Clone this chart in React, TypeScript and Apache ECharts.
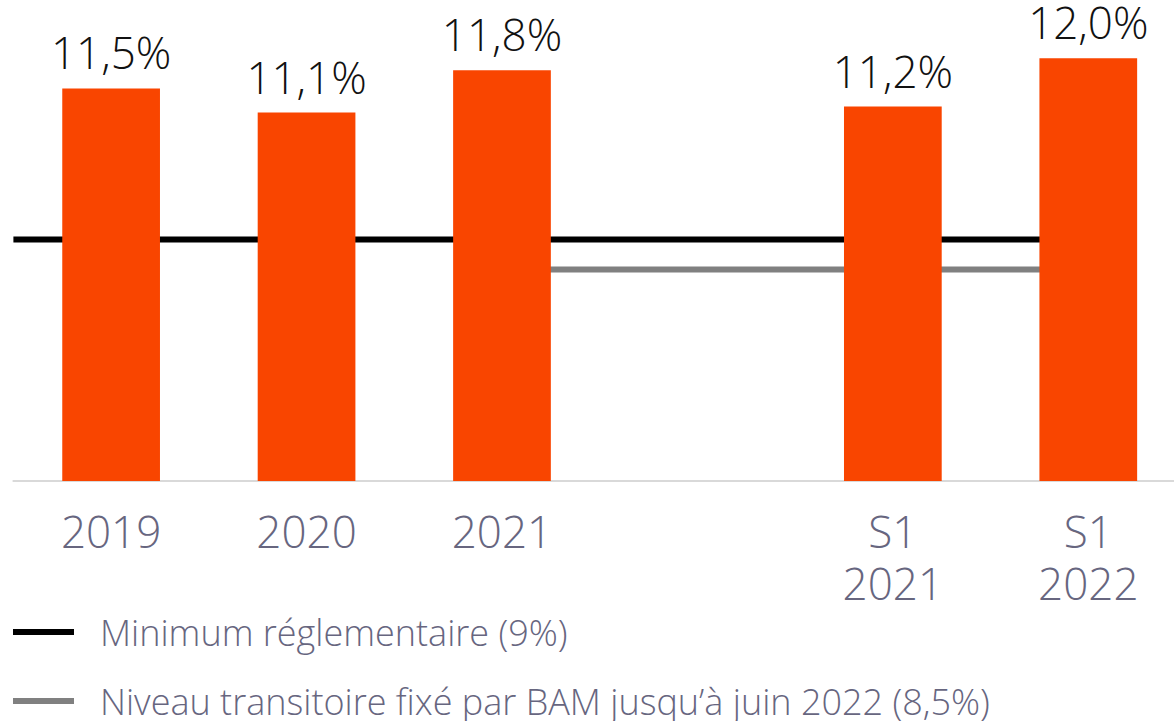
import React, { useEffect, useRef } from "react";
import * as echarts from "echarts";

const categories = ["2019", "2020", "2021", "", "S1\n2021", "S1\n2022"];
const ratios: (number | null)[] = [11.5, 11.1, 11.8, null, 11.2, 12.0];
const minimumLevel = 9;
const transitionalLevel = 8.5;
const minimumName = "Minimum réglementaire (9%)";
const transitionalName = "Niveau transitoire fixé par BAM jusqu’à juin 2022 (8,5%)";
const lineEndCategory = "S1\n2022";
const transitionalStartCategory = "2021";

const BAR_COLOR = "#f94500";
const TEXT_COLOR = "#67667f";
const FONT = "'Open Sans', Lato, sans-serif";

const legendBase = {
  orient: "horizontal",
  left: 13,
  padding: 0,
  itemWidth: 61,
  itemHeight: 6,
  icon: "rect",
  textStyle: {
    color: TEXT_COLOR,
    fontFamily: FONT,
    fontSize: 36,
    fontWeight: 300,
    lineHeight: 36,
    padding: [0, 0, 0, 21],
  },
};

export default function App() {
  const ref = useRef<HTMLDivElement>(null);
  useEffect(() => {
    if (!ref.current) return;
    const chart = echarts.init(ref.current, null, { renderer: "svg" });
    const endX = categories.indexOf(lineEndCategory) + 0.5;
    const transStartX = categories.indexOf(transitionalStartCategory) + 0.5;
    chart.setOption({
      animation: false,
      backgroundColor: "#ffffff",
      grid: { left: 13.4, right: 0, top: 28, bottom: 240, containLabel: false },
      xAxis: [
        {
          type: "category",
          data: categories,
          axisLine: { lineStyle: { color: "#d9d9d9", width: 2 } },
          axisTick: { show: false },
          axisLabel: {
            color: TEXT_COLOR,
            fontFamily: FONT,
            fontSize: 44,
            fontWeight: 300,
            lineHeight: 52,
            margin: 24,
            interval: 0,
          },
        },
        { type: "value", min: 0, max: categories.length, show: false },
      ],
      yAxis: { type: "value", min: 5, max: 12.5, show: false },
      legend: [
        { ...legendBase, top: 614, data: [minimumName] },
        { ...legendBase, top: 683, data: [transitionalName] },
      ],
      series: [
        {
          type: "bar",
          data: ratios,
          barWidth: "50%",
          z: 3,
          itemStyle: { color: BAR_COLOR },
          label: {
            show: true,
            position: "top",
            distance: 16,
            color: "#111111",
            fontFamily: FONT,
            fontSize: 44,
            fontWeight: 300,
            lineHeight: 40,
            formatter: (p: any) => p.value.toFixed(1).replace(".", ",") + "%",
          },
        },
        {
          name: minimumName,
          type: "line",
          xAxisIndex: 1,
          z: 2,
          symbol: "none",
          color: "#000000",
          lineStyle: { color: "#000000", width: 6 },
          data: [
            [0, minimumLevel],
            [endX, minimumLevel],
          ],
        },
        {
          name: transitionalName,
          type: "line",
          xAxisIndex: 1,
          z: 2,
          symbol: "none",
          color: "#808080",
          lineStyle: { color: "#808080", width: 6 },
          data: [
            [transStartX, transitionalLevel],
            [endX, transitionalLevel],
          ],
        },
      ],
    });
    return () => chart.dispose();
  }, []);
  return (
    <div style={{ position: "absolute", left: 0, top: 0, width: 1174, height: 721, overflow: "hidden", background: "#fff" }}>
      <div ref={ref} style={{ width: 1186, height: 721 }} />
    </div>
  );
}
